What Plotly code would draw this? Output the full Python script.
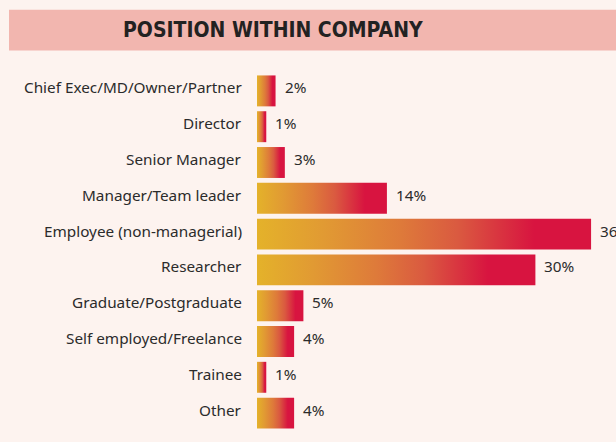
import plotly.graph_objects as go

categories = ["Chief Exec/MD/Owner/Partner", "Director", "Senior Manager",
              "Manager/Team leader", "Employee (non-managerial)", "Researcher",
              "Graduate/Postgraduate", "Self employed/Freelance", "Trainee", "Other"]
values = [2, 1, 3, 14, 36, 30, 5, 4, 1, 4]
labels = ["2%", "1%", "3%", "14%", "36%", "30%", "5%", "4%", "1%", "4%"]
title_text = "POSITION WITHIN COMPANY"

W, H = 616, 442
L, R, T, B = 257, 0, 72.5, 10.5
PW, PH = W - L - R, H - T - B
PX_PER_PCT = 9.28
HALF = 0.432
TXT = "#2b2b2b"

def px_x(px):
    return (px - L) / PW

def px_y(py):
    return (H - B - py) / PH

grad = [[0.0, "#E4B22A"], [0.2, "#E19A33"], [0.43, "#DE7A3A"],
        [0.6, "#DA5A40"], [0.83, "#D81440"], [1.0, "#D81440"]]

fig = go.Figure()
for i, (c, v) in enumerate(zip(categories, values)):
    fig.add_trace(go.Scatter(
        x=[0, v, v, 0, 0],
        y=[i - HALF, i - HALF, i + HALF, i + HALF, i - HALF],
        mode="lines", line=dict(width=0),
        fill="toself",
        fillgradient=dict(type="horizontal", colorscale=grad),
        hoverinfo="skip", showlegend=False, name=c,
    ))
    fig.add_annotation(x=v, y=i, text=labels[i], showarrow=False,
                       xanchor="left", yanchor="middle", xshift=7, yshift=3.5,
                       font=dict(family="Noto Sans", size=15.3, color=TXT))
    fig.add_annotation(xref="paper", x=px_x(244), y=i, text=c, showarrow=False,
                       xanchor="right", yanchor="middle", yshift=3.5,
                       font=dict(family="Noto Sans", size=15.3, color=TXT))

fig.add_shape(type="rect", xref="paper", yref="paper",
              x0=px_x(9), x1=px_x(640), y0=px_y(50), y1=px_y(9),
              fillcolor="#F2B6AF", line=dict(width=0), layer="below")
fig.add_annotation(xref="paper", yref="paper", x=px_x(272.5), y=px_y(29),
                   text="<b>" + title_text + "</b>", showarrow=False,
                   xanchor="center", yanchor="middle",
                   font=dict(family="DejaVu Sans Condensed, DejaVu Sans, sans-serif",
                             size=21, color="#222222"))

fig.update_layout(
    width=W, height=H,
    margin=dict(l=L, r=R, t=T, b=B, pad=0),
    paper_bgcolor="#FDF3EF", plot_bgcolor="#FDF3EF",
    xaxis=dict(range=[0, PW / PX_PER_PCT], visible=False, fixedrange=True),
    yaxis=dict(range=[len(categories) - 0.5, -0.5], visible=False,
               fixedrange=True),
)
fig.write_html("out.html",
               config={"displayModeBar": False},
               post_script="document.body.style.margin='0';"
                           "document.body.style.background='#FDF3EF';")
